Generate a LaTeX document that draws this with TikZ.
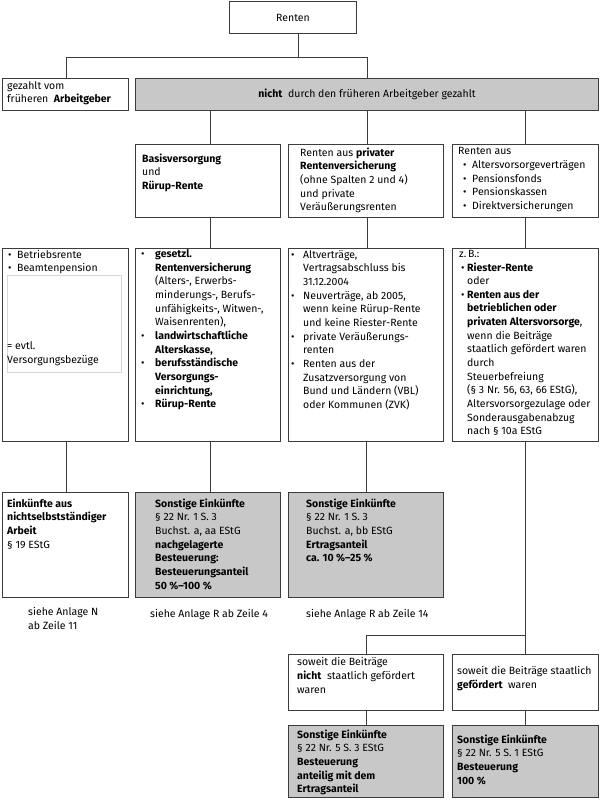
\documentclass[tikz,border=0pt]{standalone}
\usepackage{fontspec}
\setmainfont{Fira Sans}
\definecolor{boxgray}{RGB}{200,200,200}
\definecolor{linecol}{RGB}{60,60,60}
\definecolor{inner}{RGB}{215,215,215}
\newcommand\bu[1]{\makebox[#1][l]{•}}
\begin{document}
\begin{tikzpicture}[x=1pt,y=-1pt,
  box/.style={draw=linecol, line width=1pt, fill=white, inner sep=0pt, anchor=north west,
    font=\fontsize{10.5}{13.65}\selectfont},
  graybox/.style={box, fill=boxgray},
  conn/.style={draw=linecol, line width=0.9pt},
  txt/.style={anchor=north west, yshift=9.555pt, inner sep=0pt, align=left,
    font=\fontsize{10.5}{13.65}\selectfont, execute at begin node=\strut}]
\useasboundingbox[fill=white] (0,0) rectangle (600,800);

% boxes
\node[box, minimum width=127pt, minimum height=32pt] (renten) at (229,1) {Renten};
\node[box, minimum width=126pt, minimum height=32pt] (arbg) at (2,78) {};
\node[graybox, minimum width=463pt, minimum height=32pt] (nicht) at (135,78) {\textbf{nicht}\ \ durch den früheren Arbeitgeber gezahlt};
\node[box, minimum width=145pt, minimum height=73pt] (basis) at (135,144) {};
\node[box, minimum width=155pt, minimum height=73pt] (privat) at (288,144) {};
\node[box, minimum width=146pt, minimum height=73pt] (aus) at (452,144) {};
\node[box, minimum width=126pt, minimum height=193pt] (r3a) at (2,248) {};
\node[box, minimum width=145pt, minimum height=193pt] (r3b) at (135,248) {};
\node[box, minimum width=155pt, minimum height=193pt] (r3c) at (288,248) {};
\node[box, minimum width=146pt, minimum height=193pt] (r3d) at (452,248) {};
\node[box, minimum width=126pt, minimum height=105pt] (r4a) at (2,492) {};
\node[graybox, minimum width=145pt, minimum height=105pt] (r4b) at (135,492) {};
\node[graybox, minimum width=155pt, minimum height=105pt] (r4c) at (288,492) {};
\node[box, minimum width=155pt, minimum height=56pt] (r5a) at (288,654) {};
\node[box, minimum width=146pt, minimum height=56pt] (r5b) at (452,654) {};
\node[graybox, minimum width=155pt, minimum height=72pt] (r6a) at (288,725) {};
\node[graybox, minimum width=146pt, minimum height=72pt] (r6b) at (452,725) {};
\node[draw=inner, line width=0.6pt, inner sep=0pt, anchor=north west, minimum width=114pt, minimum height=97pt] (inbox) at (7,275) {};

% connectors
\draw[conn] ([xshift=5.5pt]renten.south) -- ++(0,23) coordinate (top);
\draw[conn] (top) -| ([xshift=1pt]arbg.north);
\draw[conn] (top) -| ([xshift=0.5pt]nicht.north);
\draw[conn] ([xshift=2.5pt]basis.north) -- ([xshift=2.5pt]basis.north |- nicht.south);
\draw[conn] ([xshift=1.5pt]privat.north) -- ([xshift=1.5pt]privat.north |- nicht.south);
\draw[conn] (aus.north) -- (aus.north |- nicht.south);
\draw[conn] ([xshift=2.5pt]r3b.north) -- ([xshift=2.5pt]r3b.north |- basis.south);
\draw[conn] ([xshift=1.5pt]r3c.north) -- ([xshift=1.5pt]r3c.north |- privat.south);
\draw[conn] (r3d.north) -- (r3d.north |- aus.south);
\draw[conn] ([xshift=1pt]r4a.north) -- ([xshift=1pt]r4a.north |- r3a.south);
\draw[conn] ([xshift=2.5pt]r4b.north) -- ([xshift=2.5pt]r4b.north |- r3b.south);
\draw[conn] ([xshift=0.5pt]r4c.north) -- ([xshift=0.5pt]r4c.north |- r3c.south);
\draw[conn] (r3d.south) -- (r5b.north);
\coordinate (split) at (525,635);
\draw[conn] (split) -| ([xshift=0.5pt]r5a.north);
\draw[conn] ([xshift=0.5pt]r6a.north) -- ([xshift=0.5pt]r5a.south);
\draw[conn] (r6b.north) -- (r5b.south);

% texts
\node[txt] (t-arbg) at (7,90.5) {gezahlt vom\\früheren\ \ \textbf{Arbeitgeber}};
\node[txt] (t-basis) at (142,163) {\textbf{Basisversorgung}\\und\\\textbf{Rürup-Rente}};
\node[txt] (t-privat) at (300,157) {Renten aus \textbf{privater}\\\textbf{Rentenversicherung}\\(ohne Spalten 2 und 4)\\und private\\Veräußerungsrenten};
\node[txt] (t-aus) at (458,157) {Renten aus\\\hspace*{5pt}\bu{9pt}Altersvorsorgeverträgen\\\hspace*{5pt}\bu{9pt}Pensionsfonds\\\hspace*{5pt}\bu{9pt}Pensionskassen\\\hspace*{5pt}\bu{9pt}Direktversicherungen};
\node[txt] (t-r3a) at (8,259.5) {\bu{9pt}Betriebsrente\\\bu{9pt}Beamtenpension};
\node[txt] (t-inbox) at (7,351) {= evtl.\\Versorgungsbezüge};
\node[txt] (t-r3b) at (141,259) {\bu{14pt}\textbf{gesetzl.}\\\hspace*{14pt}\textbf{Rentenversicherung}\\\hspace*{14pt}(Alters-, Erwerbs-\\\hspace*{14pt}minderungs-, Berufs-\\\hspace*{14pt}unfähigkeits-, Witwen-,\\\hspace*{14pt}Waisenrenten),\\\bu{14pt}\textbf{landwirtschaftliche}\\\hspace*{14pt}\textbf{Alterskasse,}\\\bu{14pt}\textbf{berufsständische}\\\hspace*{14pt}\textbf{Versorgungs-}\\\hspace*{14pt}\textbf{einrichtung,}\\\bu{14pt}\textbf{Rürup-Rente}};
\node[txt] (t-r3c) at (291,259.5) {\bu{12pt}Altverträge,\\\hspace*{12pt}Vertragsabschluss bis\\\hspace*{12pt}31.12.2004\\\bu{12pt}Neuverträge, ab 2005,\\\hspace*{12pt}wenn keine Rürup-Rente\\\hspace*{12pt}und keine Riester-Rente\\\bu{12pt}private Veräußerungs-\\\hspace*{12pt}renten\\\bu{12pt}Renten aus der\\\hspace*{12pt}Zusatzversorgung von\\\hspace*{12pt}Bund und Ländern (VBL)\\\hspace*{12pt}oder Kommunen (ZVK)};
\node[txt] (t-r3d) at (459,259.5) {z.\,B.:\\\hspace*{2pt}\bu{6pt}\textbf{Riester-Rente}\\\hspace*{8pt}oder\\\hspace*{2pt}\bu{6pt}\textbf{Renten aus der}\\\hspace*{8pt}\textbf{betrieblichen oder}\\\hspace*{8pt}\textbf{privaten Altersvorsorge},\\\hspace*{8pt}wenn die Beiträge\\\hspace*{8pt}staatlich gefördert waren\\\hspace*{8pt}durch\\\hspace*{8pt}Steuerbefreiung\\\hspace*{8pt}(§ 3 Nr. 56, 63, 66 EStG),\\\hspace*{8pt}Altersvorsorgezulage oder\\\hspace*{8pt}Sonderausgabenabzug\\\hspace*{8pt}nach § 10a EStG};
\node[txt] (t-r4a) at (7,508) {\textbf{Einkünfte aus}\\\textbf{nichtselbstständiger}\\\textbf{Arbeit}\\§ 19 EStG};
\node[txt] (t-r4b) at (155,508) {\textbf{Sonstige Einkünfte}\\§ 22 Nr. 1 S. 3\\Buchst. a, aa EStG\\\textbf{nachgelagerte}\\\textbf{Besteuerung:}\\\textbf{Besteuerungsanteil}\\\textbf{50 \%–100 \%}};
\node[txt] (t-r4c) at (306,508) {\textbf{Sonstige Einkünfte}\\§ 22 Nr. 1 S. 3\\Buchst. a, bb EStG\\\textbf{Ertragsanteil}\\\textbf{ca. 10 \%–25 \%}};
\node[txt] (cap-n) at (28,617) {siehe Anlage N\\ab Zeile 11};
\node[txt] (cap-r4) at (150,617) {siehe Anlage R ab Zeile 4};
\node[txt] (cap-r14) at (306,617) {siehe Anlage R ab Zeile 14};
\node[txt] (t-r5a) at (297,667) {soweit die Beiträge\\\textbf{nicht}\ \ staatlich gefördert\\waren};
\node[txt] (t-r5b) at (457,676) {soweit die Beiträge staatlich\\\textbf{gefördert}\ \ waren};
\node[txt] (t-r6a) at (297,739) {\textbf{Sonstige Einkünfte}\\§ 22 Nr. 5 S. 3 EStG\\\textbf{Besteuerung}\\\textbf{anteilig mit dem}\\\textbf{Ertragsanteil}};
\node[txt] (t-r6b) at (457,744) {\textbf{Sonstige Einkünfte}\\§ 22 Nr. 5 S. 1 EStG\\\textbf{Besteuerung}\\\textbf{100 \%}};
\end{tikzpicture}
\end{document}
